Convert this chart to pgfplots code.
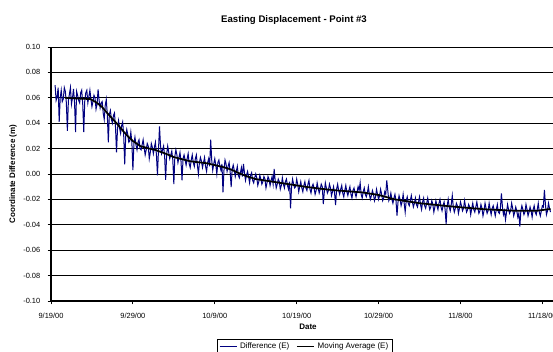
\documentclass[border=0pt]{standalone}
\usepackage{pgfplots}
\pgfplotsset{compat=1.18}
\usepackage{fontspec}
\setmainfont{Liberation Sans}
\definecolor{navyline}{RGB}{0,0,128}
\pgfplotsset{legend image code/.code={\draw[#1] (0pt,0pt) -- (13pt,0pt);}}
\begin{document}
\begin{tikzpicture}
\begin{axis}[
  at={(0,0)}, anchor=south west,
  scale only axis, width=376.5pt, height=190.5pt,
  xmin=0, xmax=61.3, ymin=-0.1, ymax=0.1,
  axis x line*=bottom, axis y line*=left,
  axis line style={line width=1.4pt, black},
  xtick={0,10,20,30,40,50,60},
  xticklabels={9/19/00,9/29/00,10/9/00,10/19/00,10/29/00,11/8/00,11/18/00},
  ytick={-0.1,-0.08,-0.06,-0.04,-0.02,0,0.02,0.04,0.06,0.08,0.1},
  yticklabels={-0.10,-0.08,-0.06,-0.04,-0.02,0.00,0.02,0.04,0.06,0.08,0.10},
  tick label style={font=\fontsize{5.6}{6.5}\selectfont},
  xticklabel style={anchor=north, yshift=-3pt},
  yticklabel style={anchor=east, xshift=-2pt},
  tick align=outside, major tick length=2.5pt,
  tick style={black, line width=0.6pt},
  ymajorgrids, grid style={black, line width=0.6pt},
  legend columns=2,
  legend style={at={(0.506,-0.179)}, anchor=center, draw=black, line width=0.5pt,
    font=\fontsize{6}{7}\selectfont, inner xsep=1pt, inner ysep=0.5pt,
    /tikz/every even column/.append style={column sep=3pt}},
]
\addplot[navyline, line width=0.75pt] table {
x y
0.500 0.070
0.625 0.058
0.750 0.061
0.875 0.068
1.000 0.041
1.125 0.060
1.250 0.066
1.375 0.057
1.500 0.059
1.625 0.068
1.750 0.065
1.875 0.056
2.000 0.034
2.125 0.058
2.250 0.063
2.375 0.068
2.500 0.055
2.625 0.060
2.750 0.067
2.875 0.056
3.000 0.033
3.125 0.065
3.250 0.062
3.375 0.058
3.500 0.056
3.625 0.064
3.750 0.066
3.875 0.055
4.000 0.033
4.125 0.058
4.250 0.064
4.375 0.066
4.500 0.056
4.625 0.061
4.750 0.066
4.875 0.059
5.000 0.053
5.125 0.057
5.250 0.062
5.375 0.060
5.500 0.051
5.625 0.055
5.750 0.0666
5.875 0.058
6.000 0.052
6.125 0.056
6.250 0.057
6.375 0.048
6.500 0.043
6.625 0.054
6.750 0.0587
6.875 0.047
7.000 0.025
7.125 0.047
7.250 0.050
7.375 0.043
7.500 0.040
7.625 0.046
7.750 0.048
7.875 0.037
8.000 0.017
8.125 0.036
8.250 0.042
8.375 0.036
8.500 0.032
8.625 0.038
8.750 0.041
8.875 0.031
9.000 0.0075
9.125 0.030
9.250 0.035
9.375 0.031
9.500 0.025
9.625 0.026
9.750 0.033
9.875 0.025
10.000 0.003
10.125 0.024
10.250 0.029
10.375 0.023
10.500 0.019
10.625 0.025
10.750 0.027
10.875 0.020
11.000 0.019
11.125 0.023
11.250 0.027
11.375 0.021
11.500 0.015
11.625 0.019
11.750 0.024
11.875 0.022
12.000 0.012
12.125 0.017
12.250 0.024
12.375 0.021
12.500 0.016
12.625 0.021
12.750 0.025
12.875 0.015
13.000 -0.001
13.125 0.019
13.250 0.0375
13.375 0.022
13.500 0.016
13.625 0.019
13.750 0.022
13.875 0.014
14.000 -0.0046
14.125 0.016
14.250 0.022
14.375 0.017
14.500 0.012
14.625 0.015
14.750 0.018
14.875 0.011
15.000 -0.008
15.125 0.014
15.250 0.019
15.375 0.015
15.500 0.009
15.625 0.013
15.750 0.017
15.875 0.010
16.000 -0.005
16.125 0.012
16.250 0.015
16.375 0.011
16.500 0.007
16.625 0.012
16.750 0.016
16.875 0.008
17.000 0.005
17.125 0.011
17.250 0.015
17.375 0.009
17.500 0.006
17.625 0.012
17.750 0.015
17.875 0.007
18.000 0.000
18.125 0.009
18.250 0.013
18.375 0.010
18.500 0.005
18.625 0.009
18.750 0.013
18.875 0.006
19.000 0.002
19.125 0.009
19.250 0.012
19.375 0.006
19.500 0.027
19.625 0.011
19.750 0.003
19.875 0.008
20.000 0.012
20.125 0.007
20.250 0.000
20.375 0.009
20.500 0.011
20.625 0.006
20.750 0.003
20.875 0.008
21.000 -0.0144
21.125 0.003
21.250 0.011
21.375 0.008
21.500 0.002
21.625 0.006
21.750 0.009
21.875 0.002
22.000 -0.0104
22.125 0.004
22.250 0.007
22.375 0.003
22.500 -0.002
22.625 0.002
22.750 0.006
22.875 -0.001
23.000 -0.003
23.125 0.001
23.250 0.005
23.375 -0.002
23.500 0.008
23.625 0.001
23.750 -0.005
23.875 -0.001
24.000 0.002
24.125 -0.002
24.250 -0.007
24.375 -0.001
24.500 0.001
24.625 -0.005
24.750 -0.007
24.875 -0.003
25.000 0.000
25.125 -0.003
25.250 -0.009
25.375 -0.006
25.500 -0.001
25.625 -0.004
25.750 -0.008
25.875 -0.006
26.000 -0.002
26.125 -0.004
26.250 -0.011
26.375 -0.007
26.500 -0.002
26.625 -0.004
26.750 -0.009
26.875 -0.005
27.000 -0.002
27.125 -0.008
27.250 0.004
27.375 -0.005
27.500 -0.011
27.625 -0.008
27.750 -0.004
27.875 -0.006
28.000 -0.012
28.125 -0.009
28.250 -0.003
28.375 -0.008
28.500 -0.011
28.625 -0.006
28.750 -0.004
28.875 -0.009
29.000 -0.012
29.125 -0.006
29.250 -0.027
29.375 -0.010
29.500 -0.004
29.625 -0.008
29.750 -0.011
29.875 -0.010
30.000 -0.004
30.125 -0.008
30.250 -0.014
30.375 -0.010
30.500 -0.006
30.625 -0.011
30.750 -0.014
30.875 -0.009
31.000 -0.006
31.125 -0.011
31.250 -0.013
31.375 -0.008
31.500 -0.005
31.625 -0.012
31.750 -0.015
31.875 -0.010
32.000 -0.008
32.125 -0.011
32.250 -0.016
32.375 -0.013
32.500 -0.007
32.625 -0.011
32.750 -0.015
32.875 -0.012
33.000 -0.008
33.125 -0.010
33.250 -0.0236
33.375 -0.014
33.500 -0.007
33.625 -0.011
33.750 -0.015
33.875 -0.013
34.000 -0.008
34.125 -0.011
34.250 -0.017
34.375 -0.014
34.500 -0.010
34.625 -0.015
34.750 -0.0244
34.875 -0.012
35.000 -0.008
35.125 -0.013
35.250 -0.016
35.375 -0.012
35.500 -0.009
35.625 -0.015
35.750 -0.018
35.875 -0.013
36.000 -0.009
36.125 -0.014
36.250 -0.017
36.375 -0.013
36.500 -0.010
36.625 -0.016
36.750 -0.019
36.875 -0.013
37.000 -0.011
37.125 -0.015
37.250 -0.018
37.375 -0.014
37.500 -0.010
37.625 -0.013
37.750 -0.007
37.875 -0.016
38.000 -0.019
38.125 -0.014
38.250 -0.011
38.375 -0.016
38.500 -0.018
38.625 -0.015
38.750 -0.010
38.875 -0.016
39.000 -0.020
39.125 -0.017
39.250 -0.013
39.375 -0.016
39.500 -0.021
39.625 -0.018
39.750 -0.012
39.875 -0.016
40.000 -0.020
40.125 -0.017
40.250 -0.012
40.375 -0.016
40.500 -0.021
40.625 -0.019
40.750 -0.014
40.875 -0.016
41.000 -0.005
41.125 -0.013
41.250 -0.021
41.375 -0.019
41.500 -0.015
41.625 -0.020
41.750 -0.023
41.875 -0.019
42.000 -0.016
42.125 -0.021
42.250 -0.0328
42.375 -0.022
42.500 -0.017
42.625 -0.020
42.750 -0.025
42.875 -0.022
43.000 -0.016
43.125 -0.023
43.250 -0.030
43.375 -0.021
43.500 -0.018
43.625 -0.023
43.750 -0.025
43.875 -0.021
44.000 -0.017
44.125 -0.022
44.250 -0.026
44.375 -0.023
44.500 -0.019
44.625 -0.024
44.750 -0.026
44.875 -0.022
45.000 -0.018
45.125 -0.024
45.250 -0.028
45.375 -0.022
45.500 -0.019
45.625 -0.025
45.750 -0.027
45.875 -0.023
46.000 -0.019
46.125 -0.024
46.250 -0.028
46.375 -0.026
46.500 -0.021
46.625 -0.024
46.750 -0.030
46.875 -0.026
47.000 -0.021
47.125 -0.025
47.250 -0.028
47.375 -0.023
47.500 -0.020
47.625 -0.026
47.750 -0.029
47.875 -0.025
48.000 -0.022
48.125 -0.028
48.250 -0.0395
48.375 -0.025
48.500 -0.020
48.625 -0.026
48.750 -0.029
48.875 -0.024
49.000 -0.017
49.125 -0.026
49.250 -0.030
49.375 -0.027
49.500 -0.023
49.625 -0.025
49.750 -0.031
49.875 -0.027
50.000 -0.022
50.125 -0.025
50.250 -0.029
50.375 -0.027
50.500 -0.021
50.625 -0.026
50.750 -0.030
50.875 -0.028
51.000 -0.024
51.125 -0.026
51.250 -0.032
51.375 -0.027
51.500 -0.023
51.625 -0.028
51.750 -0.030
51.875 -0.026
52.000 -0.022
52.125 -0.027
52.250 -0.031
52.375 -0.029
52.500 -0.024
52.625 -0.027
52.750 -0.033
52.875 -0.029
53.000 -0.023
53.125 -0.027
53.250 -0.031
53.375 -0.029
53.500 -0.023
53.625 -0.028
53.750 -0.032
53.875 -0.027
54.000 -0.025
54.125 -0.029
54.250 -0.033
54.375 -0.028
54.500 -0.024
54.625 -0.030
54.750 -0.031
54.875 -0.027
55.000 -0.0152
55.125 -0.026
55.250 -0.032
55.375 -0.029
55.500 -0.036
55.625 -0.030
55.750 -0.024
55.875 -0.028
56.000 -0.031
56.125 -0.029
56.250 -0.023
56.375 -0.027
56.500 -0.033
56.625 -0.030
56.750 -0.026
56.875 -0.029
57.000 -0.034
57.125 -0.031
57.250 -0.0415
57.375 -0.029
57.500 -0.025
57.625 -0.028
57.750 -0.032
57.875 -0.030
58.000 -0.024
58.125 -0.028
58.250 -0.033
58.375 -0.030
58.500 -0.026
58.625 -0.029
58.750 -0.034
58.875 -0.028
59.000 -0.025
59.125 -0.030
59.250 -0.032
59.375 -0.028
59.500 -0.023
59.625 -0.030
59.750 -0.033
59.875 -0.029
60.000 -0.025
60.125 -0.026
60.250 -0.0125
60.375 -0.024
60.500 -0.032
60.625 -0.029
60.750 -0.023
60.875 -0.027
61.000 -0.030
};
\addlegendentry{Difference (E)}
\addplot[black, line width=1.3pt] table {
x y
1.7 0.0600
3.0 0.0595
4.8 0.0590
5.5 0.0565
6.2 0.0530
7.0 0.0470
8.0 0.0400
9.25 0.0305
10.0 0.0260
10.9 0.0220
12.0 0.0200
12.7 0.0190
14.0 0.0160
15.0 0.0133
17.0 0.0100
19.0 0.0085
20.0 0.0070
21.0 0.0055
22.0 0.0035
23.0 0.0005
24.0 -0.0020
25.0 -0.0040
27.0 -0.0060
29.0 -0.0080
31.0 -0.0100
33.0 -0.0117
35.0 -0.0130
38.0 -0.0145
40.0 -0.0165
42.0 -0.0200
45.0 -0.0230
48.0 -0.0250
50.0 -0.0262
53.0 -0.0278
56.5 -0.0289
59.4 -0.0289
61.0 -0.0275
};
\addlegendentry{Moving Average (E)}
\end{axis}
\node[font=\bfseries\fontsize{7.2}{8.5}\selectfont] at (182.25pt,211pt) {Easting Displacement - Point \#3};
\node[font=\bfseries\fontsize{6}{7}\selectfont] at (192.75pt,-19.3pt) {Date};
\node[font=\bfseries\fontsize{6}{7}\selectfont, rotate=90] at (-28.5pt,95.25pt) {Coordinate Difference (m)};
\pgfresetboundingbox
\path[use as bounding box] (-38.25pt,-38.25pt) rectangle (376.5pt,225.75pt);
\end{tikzpicture}
\end{document}
